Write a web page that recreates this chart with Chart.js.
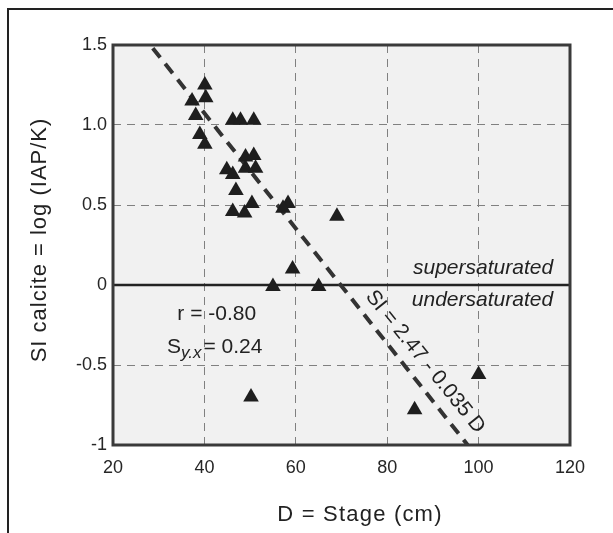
<!DOCTYPE html>
<html>
<head>
<meta charset="utf-8">
<script src="https://cdn.jsdelivr.net/npm/chart.js@4"></script>
<style>
  html, body { margin: 0; padding: 0; background: #fff; }
  canvas { display: block; }
</style>
</head>
<body>
<canvas id="siChart" width="613" height="533"></canvas>
<script>
// SI calcite vs stage – scatter with regression line

const stage = [40.1, 40.3, 37.3, 38.1, 39.0, 40.1, 46.2, 47.9, 50.8, 49.0, 50.8, 44.9, 46.2, 49.0,
  51.2, 46.9, 46.2, 48.8, 50.4, 58.3, 57.2, 69.0, 59.3, 55.0, 65.0, 50.2, 86.0, 100.0];
const siCalcite = [1.25, 1.17, 1.15, 1.06, 0.94, 0.88, 1.03, 1.03, 1.03, 0.80, 0.81, 0.72, 0.69, 0.73,
  0.73, 0.59, 0.46, 0.45, 0.51, 0.51, 0.48, 0.43, 0.10, -0.01, -0.01, -0.70, -0.78, -0.56];

// regression line end points as drawn
const fitX = [28.7, 97.6];
const fitY = [1.48, -1.0];

// saturation boundary
const zeroX = [20, 120];
const zeroY = [0, 0];

const xTicks = [20, 40, 60, 80, 100, 120];
const yTicks = [-1, -0.5, 0, 0.5, 1.0, 1.5];
const yTickLabels = ['-1', '-0.5', '0', '0.5', '1.0', '1.5'];

const FONT = '"Liberation Sans", Arial, sans-serif';
const INK = '#262626';

const pts = (xs, ys) => xs.map((x, i) => ({ x, y: ys[i] }));

// text with a bit of tracking, the original lettering is wide
function spaced(ctx, text, x, y, spacing) {
  if ('letterSpacing' in ctx) {
    ctx.letterSpacing = spacing + 'px';
    ctx.fillText(text, x, y);
    ctx.letterSpacing = '0px';
    return;
  }
  let w = 0;
  for (const ch of text) w += ctx.measureText(ch).width + spacing;
  w -= spacing;
  let cx = x - w / 2;
  ctx.textAlign = 'left';
  for (const ch of text) {
    ctx.fillText(ch, cx, y);
    cx += ctx.measureText(ch).width + spacing;
  }
  ctx.textAlign = 'center';
}

// ── frame, background, annotations ─────────────────────
const decor = {
  id: 'decor',
  beforeDraw(chart) {
    const { ctx, chartArea: a } = chart;
    ctx.save();
    ctx.fillStyle = '#f1f1f1';
    ctx.fillRect(a.left, a.top, a.right - a.left, a.bottom - a.top);
    // outer figure frame (cropped at right and bottom)
    ctx.strokeStyle = '#222';
    ctx.lineWidth = 2;
    ctx.beginPath();
    ctx.moveTo(8, 533);
    ctx.lineTo(8, 9);
    ctx.lineTo(613, 9);
    ctx.stroke();
    ctx.restore();
  },
  afterDraw(chart) {
    const { ctx, chartArea: a, scales: { x, y } } = chart;
    ctx.save();
    ctx.strokeStyle = '#3a3a3a';
    ctx.lineWidth = 3;
    ctx.strokeRect(a.left, a.top, a.right - a.left, a.bottom - a.top);

    ctx.fillStyle = '#222';
    ctx.textBaseline = 'middle';

    // axis titles
    ctx.font = '22px ' + FONT;
    ctx.textAlign = 'center';
    spaced(ctx, 'D = Stage (cm)', 360, 515, 1.2);
    ctx.save();
    ctx.translate(40, 240);
    ctx.rotate(-Math.PI / 2);
    spaced(ctx, 'SI calcite = log (IAP/K)', 0, 0, 1.0);
    ctx.restore();

    ctx.font = 'italic 21px ' + FONT;
    ctx.textAlign = 'right';
    ctx.fillText('supersaturated', x.getPixelForValue(116.3), y.getPixelForValue(0.105));
    ctx.fillText('undersaturated', x.getPixelForValue(116.3), y.getPixelForValue(-0.095));

    ctx.font = '21px ' + FONT;
    ctx.textAlign = 'center';
    ctx.fillText('r = -0.80', x.getPixelForValue(42.7), y.getPixelForValue(-0.18));

    // S with subscript y.x
    const sx = x.getPixelForValue(31.8), sy = y.getPixelForValue(-0.39);
    ctx.textAlign = 'left';
    ctx.fillText('S', sx, sy);
    let w = ctx.measureText('S').width;
    ctx.font = 'italic 17px ' + FONT;
    ctx.fillText('y.x', sx + w, sy + 6);
    w += ctx.measureText('y.x').width + 2;
    ctx.font = '21px ' + FONT;
    ctx.fillText('= 0.24', sx + w, sy);

    // regression label along the line
    ctx.translate(x.getPixelForValue(88.3), y.getPixelForValue(-0.48));
    ctx.rotate(51 * Math.PI / 180);
    ctx.textAlign = 'center';
    ctx.fillText('SI = 2.47 - 0.035 D', 0, 0);
    ctx.restore();
  }
};

new Chart(document.getElementById('siChart'), {
  type: 'scatter',
  data: {
    datasets: [{
      label: 'SI calcite',
      data: pts(stage, siCalcite),
      pointStyle: 'triangle',
      pointRadius: 9,
      backgroundColor: '#1e1e1e',
      borderColor: '#1e1e1e',
      borderWidth: 0
    }, {
      label: 'fit',
      type: 'line',
      data: pts(fitX, fitY),
      borderColor: '#333',
      borderWidth: 4,
      borderDash: [12, 8],
      pointRadius: 0,
      fill: false
    }, {
      label: 'zero',
      type: 'line',
      data: pts(zeroX, zeroY),
      borderColor: '#222',
      borderWidth: 2.5,
      pointRadius: 0,
      fill: false
    }]
  },
  options: {
    responsive: false,
    animation: false,
    layout: { padding: { top: 45, right: 43, left: 0, bottom: 0 } },
    plugins: { legend: { display: false }, tooltip: { enabled: false } },
    scales: {
      x: {
        type: 'linear',
        min: 20, max: 120,
        afterFit: s => { s.height = 88; },
        afterBuildTicks: s => { s.ticks = xTicks.map(v => ({ value: v })); },
        ticks: { color: INK, font: { family: FONT, size: 18 }, padding: 12 },
        grid: {
          drawTicks: false,
          color: c => (c.tick && (c.tick.value === 20 || c.tick.value === 120)) ? 'rgba(0,0,0,0)' : '#808080',
          lineWidth: 1,
          borderDash: [8, 6]
        },
        border: { display: false, dash: [8, 6] }
      },
      y: {
        type: 'linear',
        min: -1, max: 1.5,
        afterFit: s => { s.width = 113; },
        afterBuildTicks: s => { s.ticks = yTicks.map(v => ({ value: v })); },
        ticks: {
          color: INK, font: { family: FONT, size: 18 }, padding: 6,
          callback: v => yTickLabels[yTicks.indexOf(v)]
        },
        grid: {
          drawTicks: false,
          color: c => (c.tick && [-1, 0, 1.5].includes(c.tick.value)) ? 'rgba(0,0,0,0)' : '#808080',
          lineWidth: 1,
          borderDash: [8, 6]
        },
        border: { display: false, dash: [8, 6] }
      }
    }
  },
  plugins: [decor]
});
</script>
</body>
</html>
